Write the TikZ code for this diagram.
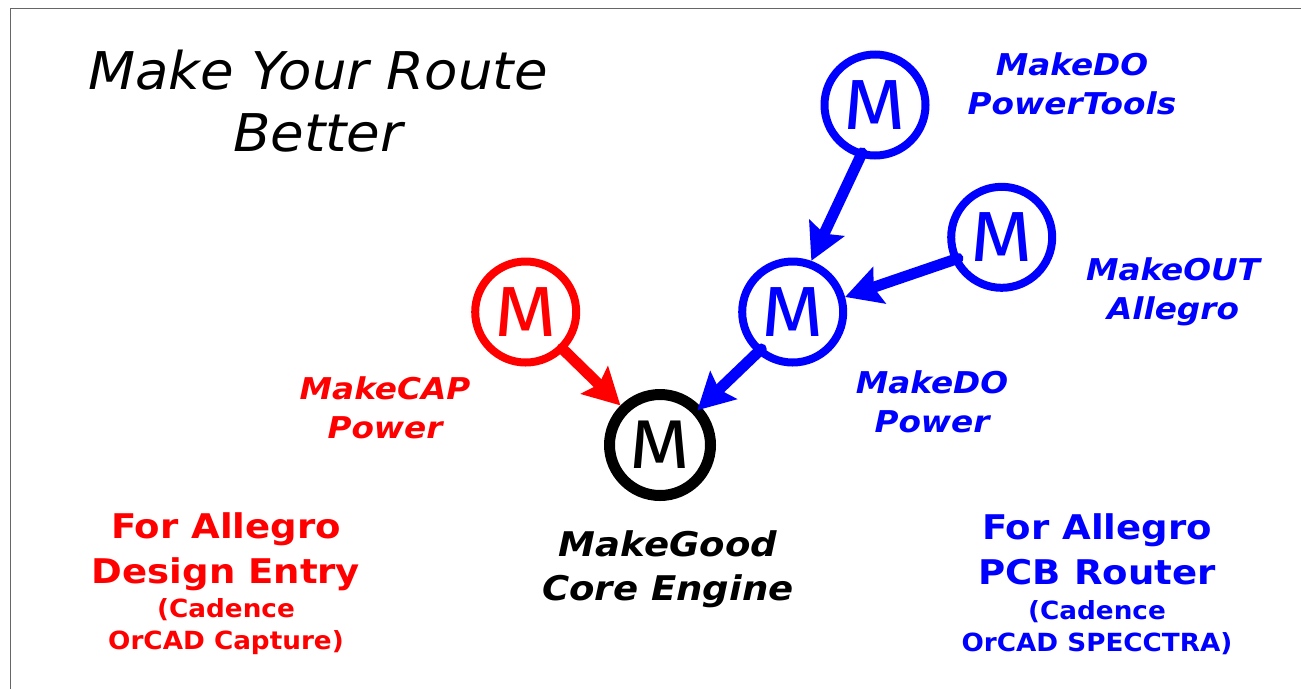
\documentclass[tikz,border=0pt]{standalone}
\usepackage{fontspec}
\setmainfont{DejaVu Sans}
\newfontfamily\logofont[FakeStretch=1.13]{Fira Sans}
\newfontfamily\wideA[FakeStretch=1.09]{DejaVu Sans}
\newfontfamily\wideB[FakeStretch=1.05]{DejaVu Sans}
\usetikzlibrary{arrows.meta}
\tikzset{
  ring/.style={circle,draw=#1,text=#1,line width=8pt,minimum size=101pt,inner sep=0pt,
    font=\logofont\fontsize{71}{71}\selectfont},
  coreRing/.style={ring=black,line width=11pt,font=\logofont\fontsize{69}{69}\selectfont},
  link/.style={line width=11pt,line cap=round,draw=#1,
    -{Stealth[length=36pt,width=38pt,inset=6pt]}},
  lab/.style={align=center,text=#1,font=\wideA\bfseries\itshape\fontsize{30}{38.5}\selectfont,inner sep=0pt},
  head/.style={align=center,text=#1,font=\wideA\bfseries\fontsize{34}{45}\selectfont,inner sep=0pt},
  subhead/.style={head=#1,font=\wideB\bfseries\fontsize{25}{32}\selectfont}
}
\definecolor{pureblue}{RGB}{0,0,255}
\definecolor{purered}{RGB}{255,0,0}
\begin{document}
\begin{tikzpicture}[x=1pt,y=-1pt]
\useasboundingbox (0,0) rectangle (1301,689);
\coordinate (frameA) at (1301,8.5);
\coordinate (frameB) at (10.5,8.5);
\coordinate (frameC) at (10.5,689);
\draw[line width=1.2pt,draw=black!60] (frameA) -- (frameB) -- (frameC);

\node[ring=purered] (cap) at (525.7,312) {M};
\node[ring=pureblue] (power) at (792.7,312) {M};
\node[ring=pureblue] (tools) at (875,105) {M};
\node[ring=pureblue] (out) at (1001.7,237.3) {M};
\node[coreRing] (core) at (660,445) {M};

\draw[link=purered,shorten <=-3pt] (cap.315) -- (core.135);
\draw[link=pureblue,shorten <=-6pt,shorten >=-5pt] (power.229) -- (core.43);
\draw[link=pureblue,shorten <=-5pt] (tools.254) -- (power.70);
\draw[link=pureblue,shorten <=-6pt] (out.205) -- (power.16);

\node[align=center,font=\wideB\itshape\fontsize{52}{62}\selectfont,inner sep=0pt] (title) at (318,101) {Make Your Route\\Better};
\node[lab=pureblue] (l1) at (1072,84) {MakeDO\\PowerTools};
\node[lab=pureblue] (l2) at (1173,292) {MakeOUT\\Allegro};
\node[lab=pureblue] (l3) at (932,402) {MakeDO\\Power};
\node[lab=purered] (l4) at (385,408) {MakeCAP\\Power};
\node[lab=black,font=\wideA\bfseries\itshape\fontsize{34}{44}\selectfont] (l5) at (668,569) {MakeGood\\Core Engine};
\node[head=purered] (h1) at (226,551.5) {For Allegro\\Design Entry};
\node[subhead=purered] (s1) at (226,627) {(Cadence\\OrCAD Capture)};
\node[head=pureblue] (h2) at (1097,549.5) {For Allegro\\PCB Router};
\node[subhead=pureblue] (s2) at (1097,628) {(Cadence\\OrCAD SPECCTRA)};
\end{tikzpicture}
\end{document}
